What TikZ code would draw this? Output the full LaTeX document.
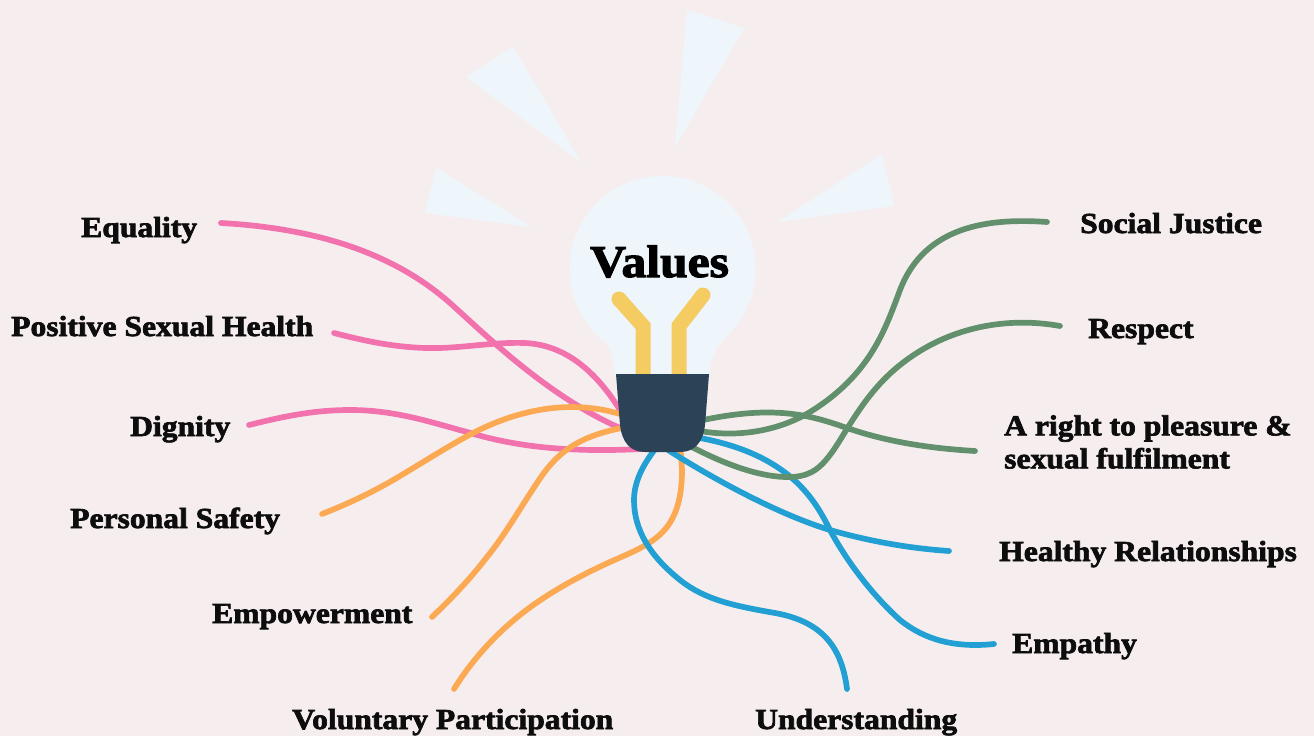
\documentclass[tikz,border=0pt]{standalone}
\usepackage{fontspec}
\usepackage{xcolor}
\setmainfont{Liberation Serif}[BoldFeatures={FakeBold=2.4,FakeStretch=1.09}]
\definecolor{page-bg}{HTML}{F6EEEE}
\definecolor{glass}{HTML}{EEF6FB}
\definecolor{filament}{HTML}{F4CC62}
\definecolor{socket-blue}{HTML}{2C4257}
\definecolor{value-pink}{HTML}{F272AE}
\definecolor{value-orange}{HTML}{FBA952}
\definecolor{value-green}{HTML}{628F6C}
\definecolor{value-blue}{HTML}{229FD3}
\tikzset{
    value-label/.style = {anchor=base west, inner sep=0pt, text=black!95, font=\fontsize{29}{33}\selectfont\bfseries},
    title-label/.style = {anchor=base west, inner sep=0pt, text=black, font=\fontsize{45.5}{50}\selectfont\bfseries},
    value-line/.style = {line width=5.7pt, line cap=round, line join=round},
    pink-line/.style = {value-line, draw=value-pink},
    orange-line/.style = {value-line, draw=value-orange},
    green-line/.style = {value-line, draw=value-green},
    blue-line/.style = {value-line, draw=value-blue},
    filament-line/.style = {draw=filament, line width=15pt, line join=miter},
}

\begin{document}
\begin{tikzpicture}[x=1pt,y=-1pt]
\fill[page-bg] (0,0) rectangle (1314,736);
\useasboundingbox (0,0) rectangle (1314,736);

\fill[glass] (436,168) -- (425,213) -- (532,227) -- cycle;
\fill[glass] (513,47) -- (466,77) -- (581,162) -- cycle;
\fill[glass] (687,10) -- (744,28) -- (675,147) -- cycle;
\fill[glass] (882,154) -- (894,206) -- (778,222) -- cycle;

\fill[glass] (662.5,269) circle[radius=93pt];
\fill[glass] (603,338) .. controls (611,347) and (614,358) .. (615,376) -- (709,376) .. controls (710,358) and (716,347) .. (725,338) -- cycle;

\coordinate (hub) at (662,413);
\coordinate (equality-end) at (221,223);
\coordinate (positive-end) at (334,333);
\coordinate (dignity-end) at (249,425);
\coordinate (safety-end) at (322,514);
\coordinate (empowerment-end) at (432,617);
\coordinate (voluntary-end) at (454,689);
\coordinate (understanding-end) at (847,689);
\coordinate (empathy-end) at (994,644);
\coordinate (healthy-end) at (949,551);
\coordinate (pleasure-end) at (975,451);
\coordinate (respect-end) at (1060,326);
\coordinate (justice-end) at (1047,222);

\draw[pink-line] (equality-end) .. controls (310,228) and (390,250) .. (450,303) .. controls (480,329.5) and (545,395) .. (620,428) -- (hub);
\draw[pink-line] (positive-end) .. controls (365,341) and (400,349) .. (440,348) .. controls (470,347) and (495,342) .. (525,343) .. controls (570,345) and (600,378) .. (620,410) -- (hub);
\draw[pink-line] (dignity-end) .. controls (285,416) and (315,410) .. (350,410) .. controls (395,410) and (430,422) .. (467,432) .. controls (510,445) and (560,453) .. (642,449) -- (hub);

\draw[orange-line] (safety-end) .. controls (350,503) and (375,491) .. (400,476) .. controls (430,458) and (455,442) .. (477,431) .. controls (505,417) and (560,396) .. (620,414) -- (hub);
\draw[orange-line] (empowerment-end) .. controls (452,598) and (470,579) .. (487,557) .. controls (505,535) and (522,505) .. (537,483) .. controls (555,455) and (575,437) .. (622,428) -- (hub);
\draw[orange-line] (voluntary-end) .. controls (472,660) and (495,635) .. (520,615) .. controls (545,595) and (575,578) .. (610,562) .. controls (650,544) and (682,535) .. (682,470) -- (680,440) -- (hub);

\draw[blue-line] (understanding-end) .. controls (842,650) and (825,622) .. (775,613) .. controls (735,606) and (705,600) .. (680,580) .. controls (650,556) and (634,530) .. (634,500) .. controls (634,480) and (645,462) .. (656,448) -- (hub);
\draw[blue-line] (healthy-end) .. controls (905,548) and (865,540) .. (830,530) .. controls (780,515) and (715,480) .. (668,450) -- (hub);
\draw[blue-line] (empathy-end) .. controls (955,648) and (925,640) .. (900,620) .. controls (870,593) and (845,558) .. (830,530) .. controls (815,500) and (790,455) .. (700,438) -- (hub);

\draw[green-line] (justice-end) .. controls (990,218) and (925,225) .. (900,290) .. controls (885,330) and (870,375) .. (810,412) .. controls (780,430) and (740,438) .. (700,431) -- (hub);
\draw[green-line] (respect-end) .. controls (1010,317) and (950,325) .. (900,365) .. controls (875,385) and (860,408) .. (845,432) .. controls (825,465) and (815,478) .. (785,477) .. controls (755,476) and (720,462) .. (688,445) -- (hub);
\draw[green-line] (pleasure-end) .. controls (925,448) and (885,441) .. (847,428) .. controls (810,415) and (775,405) .. (703,420) -- (hub);

\draw[filament-line] (619,299) -- (643,326) -- (643,376);
\draw[filament-line] (703,295) -- (679,326) -- (679,376);
\fill[filament] (619,299) circle[radius=7.5pt];
\fill[filament] (703,295) circle[radius=7.5pt];

\fill[socket-blue] (616,374) -- (709,374) -- (705,425) .. controls (703,442) and (695,452) .. (680,452) -- (645,452) .. controls (630,452) and (622,442) .. (620,425) -- cycle;

\node[title-label] (values) at (590,277) {Values};
\node[value-label] (equality) at (81,237) {Equality};
\node[value-label] (positive) at (11,336) {Positive Sexual Health};
\node[value-label] (dignity) at (130,436) {Dignity};
\node[value-label] (safety) at (70,528) {Personal Safety};
\node[value-label] (empowerment) at (212,623) {Empowerment};
\node[value-label] (voluntary) at (292,729) {Voluntary Participation};
\node[value-label] (understanding) at (755,729) {Understanding};
\node[value-label] (justice) at (1080,233) {Social Justice};
\node[value-label] (respect) at (1088,338) {Respect};
\node[value-label, anchor=west, align=left] (pleasure) at (1004,442) {A right to pleasure \&\\sexual fulfilment};
\node[value-label] (healthy) at (999,561) {Healthy Relationships};
\node[value-label] (empathy) at (1012,653) {Empathy};
\end{tikzpicture}
\end{document}
